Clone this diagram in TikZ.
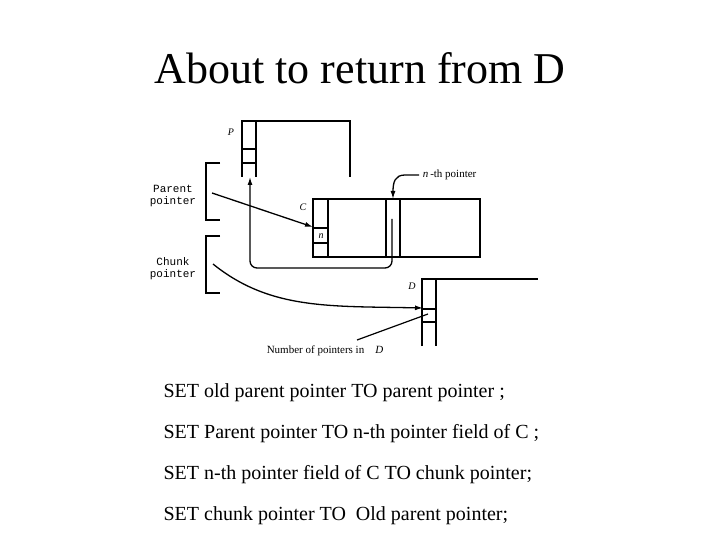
\documentclass[tikz,border=0pt]{standalone}
\usepackage{fontspec}
\setmainfont{Liberation Serif}
\newfontfamily\typefont{Liberation Mono}
\usetikzlibrary{positioning}
\usetikzlibrary{arrows.meta}
\tikzset{
	every path/.style={line width=1.2pt},
	box/.style={line width=1.4pt},
	fat/.style={line width=2.4pt},
	ptr/.style={-{Latex[length=8pt,width=5pt]},line width=1.3pt},
	tag/.style={font=\fontsize{10}{12}\selectfont\itshape},
	side/.style={font=\typefont\fontsize{11}{12}\selectfont,align=center},
	stmt/.style={anchor=west,inner sep=0pt,font=\fontsize{20}{24}\selectfont},
}

\begin{document}
\begin{tikzpicture}[x=1pt,y=-1pt]
			\useasboundingbox (0,0) rectangle (720,540);
			
			%title.....................
			\node (title) at (360,68) {\fontsize{44}{50}\selectfont About to return from D};
			
			%P record.....................
			\draw [box] (242,177) -- (242,121) -- (350,121) -- (350,177);
			\draw [box] (256,121) -- (256,177);
			\draw [fat] (242,149) -- (256,149);
			\draw (242,163) -- (256,163);
			\node [tag] (plab) at (231,132) {P};
			
			%C record.....................
			\draw [box] (313,199) rectangle (480,257);
			\draw [box] (328,199) -- (328,257);
			\draw [fat] (386,199) -- (386,257);
			\draw (400,199) -- (400,257);
			\draw (313,228) -- (328,228);
			\draw [fat] (313,243) -- (328,243);
			\node [tag] (clab) at (303,207) {C};
			\node [tag] (nlab) at (321,236) {n};
			\coordinate (ncell) at (313,227);
			\coordinate (nthcell) at (393,199);
			
			%D record.....................
			\draw [box] (422,346) -- (422,279) -- (538,279);
			\draw [box] (436,279) -- (436,346);
			\draw [fat] (422,309) -- (436,309);
			\draw (422,322) -- (436,322);
			\node [tag] (dlab) at (412,286) {D};
			\coordinate (dcell) at (423,308);
			
			%brackets.....................
			\draw [box] (220,163) -- (206,163) -- (206,220) -- (220,220);
			\draw [box] (220,236) -- (206,236) -- (206,293) -- (220,293);
			\node [side] (parent) at (173,196) {Parent\\pointer};
			\node [side] (chunk) at (173,269) {Chunk\\pointer};
			
			%pointers.....................
			\coordinate (pstart) at (212,193);
			\coordinate (cstart) at (213,264);
			\draw [ptr] (pstart) -- (ncell);
			\draw [ptr] (cstart) .. controls (270,310) and (330,306) .. (dcell);
			\draw [ptr,rounded corners=7pt] (392,219) -- (392,268) -- (250,268) -- (250,177);
			
			%labels.....................
			\node [anchor=west,font=\fontsize{11}{12}\selectfont] (nth) at (419,175) {\textit{n}\,-th pointer};
			\draw [ptr] (nth.west) -- (405,175) .. controls (395,175) and (393,182) .. (nthcell);
			\node [font=\fontsize{11}{12}\selectfont] (num) at (325,351) {Number of pointers in\quad\textit{D}};
			\draw (357,340) -- (428,314);
			
			%statements.....................
			\node [stmt] (s1) at (163,393) {SET old parent pointer TO parent pointer ;};
			\node [stmt] (s2) at (163,434) {SET Parent pointer TO n-th pointer field of C ;};
			\node [stmt] (s3) at (163,475) {SET n-th pointer field of C TO chunk pointer;};
			\node [stmt] (s4) at (163,516) {SET chunk pointer TO \ Old parent pointer;};
			
		\end{tikzpicture}
\end{document}
